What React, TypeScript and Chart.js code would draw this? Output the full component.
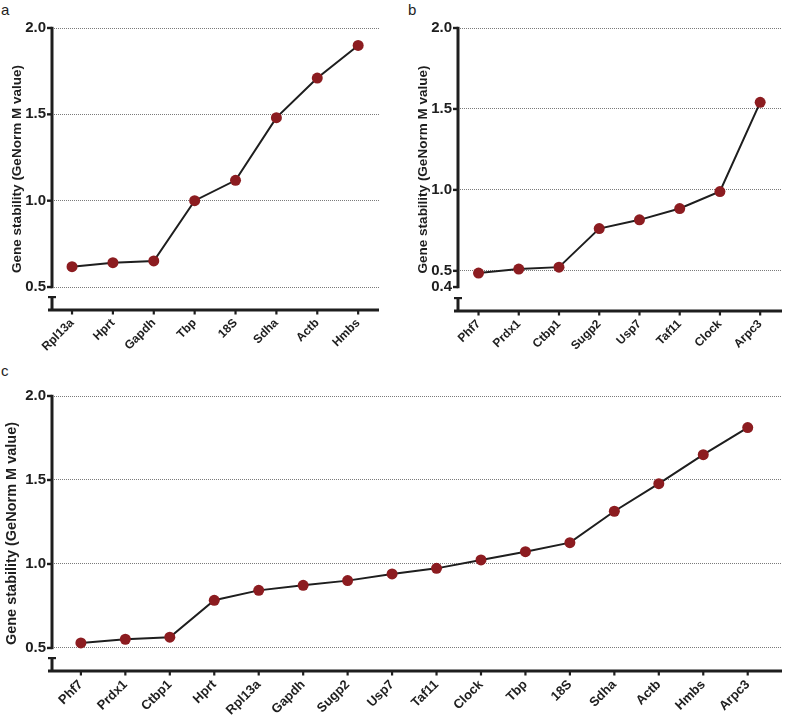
import React, { useEffect, useRef } from 'react';
import { Chart, registerables } from 'chart.js';

Chart.register(...registerables);

// ---- Data ----
const genesA = ['Rpl13a', 'Hprt', 'Gapdh', 'Tbp', '18S', 'Sdha', 'Actb', 'Hmbs'];
const valuesA = [0.618, 0.641, 0.651, 1.0, 1.118, 1.481, 1.71, 1.899];

const genesB = ['Phf7', 'Prdx1', 'Ctbp1', 'Sugp2', 'Usp7', 'Taf11', 'Clock', 'Arpc3'];
const valuesB = [0.486, 0.511, 0.523, 0.761, 0.815, 0.885, 0.99, 1.541];

const genesC = ['Phf7', 'Prdx1', 'Ctbp1', 'Hprt', 'Rpl13a', 'Gapdh', 'Sugp2', 'Usp7', 'Taf11', 'Clock', 'Tbp', '18S', 'Sdha', 'Actb', 'Hmbs', 'Arpc3'];
const valuesC = [0.53, 0.552, 0.564, 0.784, 0.843, 0.873, 0.901, 0.941, 0.974, 1.024, 1.073, 1.127, 1.314, 1.478, 1.651, 1.812];

const yTicksA = [0.5, 1.0, 1.5, 2.0];
const yTicksB = [0.4, 0.5, 1.0, 1.5, 2.0];
const yTicksC = [0.5, 1.0, 1.5, 2.0];

const yTitle = 'Gene stability (GeNorm M value)';
const panelLetters = ['a', 'b', 'c'];

const FONT = '"Liberation Sans", Arial, Helvetica, sans-serif';
const INK = '#1e1e1e';
const POINT = '#8c1c20';

type PanelProps = {
  labels: string[];
  values: number[];
  yTicks: number[];
  yMin: number;
  xMin: number;
  xMax: number;
  box: { left: number; top: number; width: number; height: number };
  yAxisWidth: number;
  xAxisHeight: number;
  padTop: number;
  padRight: number;
  tickFont: number;
  xFont: number;
  titleFont: number;
  titlePad: number;
};

function makeAxisPlugin(yTicks: number[], nCats: number) {
  return {
    id: 'brokenAxes',
    afterDraw(chart: any) {
      const ctx: CanvasRenderingContext2D = chart.ctx;
      const area = chart.chartArea;
      const left = Math.round(area.left);
      const right = Math.round(area.right);
      const bottom = Math.round(area.bottom);
      const y = chart.scales.y;
      const x = chart.scales.x;
      let lo = yTicks[0];
      let hi = yTicks[0];
      for (const t of yTicks) {
        if (t < lo) lo = t;
        if (t > hi) hi = t;
      }
      const lowPx = y.getPixelForValue(lo);
      const topPx = y.getPixelForValue(hi);
      ctx.save();
      ctx.fillStyle = INK;
      // upper y segment
      ctx.fillRect(left - 1.5, topPx - 1.2, 3, lowPx - topPx + 2.4);
      // y tick marks
      for (const t of yTicks) {
        const py = y.getPixelForValue(t);
        ctx.fillRect(left - 5, py - 1.2, 5, 2.4);
      }
      // lower y segment with cap (axis break)
      const capY = bottom - 13;
      ctx.fillRect(left - 1.5, capY, 3, 13);
      ctx.fillRect(left - 4, capY - 1, 8, 2.2);
      // x axis
      ctx.fillRect(left - 4, bottom - 1.5, right - left + 4, 3);
      // x tick marks
      for (let i = 0; i < nCats; i++) {
        const px = x.getPixelForValue(i);
        ctx.fillRect(px - 1.1, bottom, 2.2, 4.5);
      }
      ctx.restore();
    },
  };
}

function Panel(p: PanelProps) {
  const ref = useRef<HTMLCanvasElement | null>(null);
  useEffect(() => {
    if (!ref.current) return;
    const chart = new Chart(ref.current, {
      type: 'line',
      data: {
        datasets: [
          {
            data: p.values.map((v, i) => ({ x: i, y: v })),
            borderColor: INK,
            borderWidth: 2,
            pointRadius: 5.5,
            pointBackgroundColor: POINT,
            pointBorderColor: POINT,
            pointBorderWidth: 0,
            tension: 0,
          },
        ],
      },
      options: {
        animation: false,
        responsive: false,
        maintainAspectRatio: false,
        events: [],
        layout: { padding: { top: p.padTop, right: p.padRight, left: 0, bottom: 0 } },
        plugins: {
          legend: { display: false },
          tooltip: { enabled: false },
        },
        scales: {
          x: {
            type: 'linear',
            min: p.xMin,
            max: p.xMax,
            afterBuildTicks: (s: any) => {
              s.ticks = p.labels.map((_, i) => ({ value: i }));
            },
            afterFit: (s: any) => {
              s.height = p.xAxisHeight;
            },
            ticks: {
              autoSkip: false,
              maxRotation: 45,
              minRotation: 45,
              padding: 1,
              color: INK,
              font: { family: FONT, size: p.xFont, weight: 'bold' },
              callback: (v: any) => p.labels[Math.round(Number(v))] ?? '',
            },
            grid: {
              display: true,
              drawOnChartArea: false,
              drawTicks: true,
              tickLength: 5,
              tickWidth: 0,
              tickColor: 'rgba(0,0,0,0)',
            },
            border: { display: false },
          },
          y: {
            type: 'linear',
            min: p.yMin,
            max: 2.0,
            afterBuildTicks: (s: any) => {
              s.ticks = p.yTicks.map((v) => ({ value: v }));
            },
            afterFit: (s: any) => {
              s.width = p.yAxisWidth;
            },
            ticks: {
              autoSkip: false,
              padding: 1,
              color: INK,
              font: { family: FONT, size: p.tickFont, weight: 'bold' },
              callback: (v: any) => Number(v).toFixed(1),
            },
            grid: {
              color: (ctx: any) => (ctx.tick && ctx.tick.value < 0.45 ? 'rgba(0,0,0,0)' : '#7a7a7a'),
              lineWidth: 1,
              drawTicks: true,
              tickLength: 5,
              tickWidth: 0,
              tickColor: 'rgba(0,0,0,0)',
            },
            border: { display: false, dash: [1, 1] },
            title: {
              display: true,
              text: yTitle,
              color: INK,
              font: { family: FONT, size: p.titleFont, weight: 'bold' },
              padding: { top: p.titlePad, bottom: 0 },
            },
          },
        },
      } as any,
      plugins: [makeAxisPlugin(p.yTicks, p.labels.length)],
    });
    return () => chart.destroy();
  }, []);
  return (
    <canvas
      ref={ref}
      width={p.box.width}
      height={p.box.height}
      style={{ position: 'absolute', left: p.box.left, top: p.box.top, width: p.box.width, height: p.box.height }}
    />
  );
}

const letterStyle: React.CSSProperties = {
  position: 'absolute',
  fontFamily: FONT,
  fontSize: 15,
  lineHeight: '15px',
  color: INK,
};

export default function App() {
  return (
    <div style={{ position: 'absolute', left: 0, top: 0, width: 787, height: 724, background: '#fff', overflow: 'hidden' }}>
      <div style={{ ...letterStyle, left: 1, top: 2 }}>{panelLetters[0]}</div>
      <div style={{ ...letterStyle, left: 408, top: 2 }}>{panelLetters[1]}</div>
      <div style={{ ...letterStyle, left: 1, top: 363 }}>{panelLetters[2]}</div>
      <Panel
        labels={genesA}
        values={valuesA}
        yTicks={yTicksA}
        yMin={0.367}
        xMin={-0.49}
        xMax={7.51}
        box={{ left: 0, top: 0, width: 390, height: 356 }}
        yAxisWidth={52}
        xAxisHeight={46}
        padTop={28}
        padRight={11}
        tickFont={15}
        xFont={12}
        titleFont={13.5}
        titlePad={9}
      />
      <Panel
        labels={genesB}
        values={valuesB}
        yTicks={yTicksB}
        yMin={0.252}
        xMin={-0.51}
        xMax={7.53}
        box={{ left: 390, top: 0, width: 397, height: 356 }}
        yAxisWidth={68}
        xAxisHeight={45}
        padTop={28}
        padRight={0}
        tickFont={15}
        xFont={12}
        titleFont={13.5}
        titlePad={25}
      />
      <Panel
        labels={genesC}
        values={valuesC}
        yTicks={yTicksC}
        yMin={0.363}
        xMin={-0.65}
        xMax={15.76}
        box={{ left: 0, top: 360, width: 787, height: 364 }}
        yAxisWidth={52}
        xAxisHeight={53}
        padTop={36}
        padRight={0}
        tickFont={15}
        xFont={13}
        titleFont={14.5}
        titlePad={3}
      />
    </div>
  );
}
